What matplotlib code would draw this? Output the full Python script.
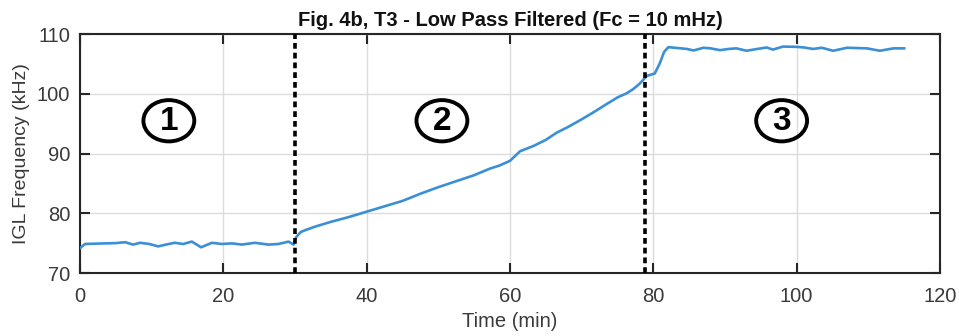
import matplotlib.pyplot as plt
from matplotlib.patches import Ellipse

plt.rcParams['font.family'] = ['Liberation Sans', 'DejaVu Sans']

# IGL frequency after low pass filtering (Fc = 10 mHz)
time_min = [0, 0.7, 2, 3.5, 5, 6.3, 7.4, 8.4, 9.7, 10.9, 12, 13.2, 14.4, 15.6,
            16.9, 18.4, 19.8, 21.2, 22.6, 24.4, 26.3, 27.7, 29.1, 29.8, 30.2,
            30.8, 31.4, 32.8, 35, 37.5, 40, 42.5, 45, 47.5, 50, 52.5, 55, 57.2,
            58.5, 60, 61.4, 63.3, 65, 66.5, 68, 69.8, 71.5, 73.5, 75, 76.3,
            77.2, 78.1, 79.1, 80.2, 80.9, 81.5, 82.1, 83, 84.7, 85.6, 87, 88,
            89.3, 90.5, 91.6, 93, 94.5, 95.8, 96.7, 98.1, 100, 101, 102.3,
            103.5, 105.1, 107, 108.5, 109.8, 111.6, 113.5, 115]
freq_khz = [74.2, 74.9, 74.95, 75.0, 75.05, 75.2, 74.8, 75.1, 74.9, 74.5,
            74.8, 75.1, 74.9, 75.3, 74.35, 75.1, 74.9, 75.0, 74.8, 75.1, 74.8,
            74.9, 75.3, 74.8, 76.1, 76.9, 77.2, 77.8, 78.6, 79.4, 80.3, 81.2,
            82.1, 83.3, 84.4, 85.4, 86.4, 87.5, 88.0, 88.8, 90.4, 91.3, 92.3,
            93.5, 94.4, 95.6, 96.8, 98.3, 99.4, 100.1, 100.8, 101.7, 103.0,
            103.4, 105.1, 107.0, 107.8, 107.7, 107.5, 107.25, 107.7, 107.6,
            107.3, 107.5, 107.6, 107.2, 107.5, 107.75, 107.4, 107.9, 107.85,
            107.75, 107.5, 107.7, 107.2, 107.7, 107.65, 107.6, 107.2, 107.6,
            107.6]

phase_bounds = [30, 78.8]
phase_labels = ['1', '2', '3']
phase_label_x = [12.4, 50.5, 97.9]
phase_label_y = 95.5

fig = plt.figure(figsize=(9.59, 3.36), dpi=100)
ax = fig.add_axes([0.0834, 0.1866, 0.8968, 0.7122])

ax.plot(time_min, freq_khz, color='#3a8fd6', lw=1.9, zorder=3)
for xb in phase_bounds:
    ax.axvline(xb, color='black', lw=2.6, linestyle=(0, (1.6, 1.1)), zorder=4)

for lab, xc in zip(phase_labels, phase_label_x):
    ax.add_patch(Ellipse((xc, phase_label_y), 7.1, 6.9, fill=False,
                         edgecolor='black', lw=2.8, zorder=5))
    ax.text(xc, phase_label_y - 0.2, lab, ha='center', va='center',
            fontsize=24, fontweight='bold', color='black', zorder=6)

ax.set_xlim(0, 120)
ax.set_ylim(70, 110)
ax.set_xticks(range(0, 121, 20))
ax.set_yticks(range(70, 111, 10))
ax.grid(True, color='#dcdcdc', lw=1.0)
ax.set_axisbelow(True)

gray = '#262626'
for s in ax.spines.values():
    s.set_color(gray)
    s.set_linewidth(1.5)
ax.tick_params(direction='in', top=True, right=True, length=7, width=1.5,
               colors=gray, labelsize=14.5, labelcolor='#3a3a3a')
ax.tick_params(axis='x', pad=10)
ax.tick_params(axis='y', pad=7)

ax.set_xlabel('Time (min)', fontsize=14.5, color='#3a3a3a', labelpad=4)
ax.set_ylabel('IGL Frequency (kHz)', fontsize=14, color='#3a3a3a', labelpad=5)
ax.set_title('Fig. 4b, T3 - Low Pass Filtered (Fc = 10 mHz)', fontsize=14.5,
             fontweight='bold', color='#111111', pad=6)

fig.savefig('out.png', dpi=100)
